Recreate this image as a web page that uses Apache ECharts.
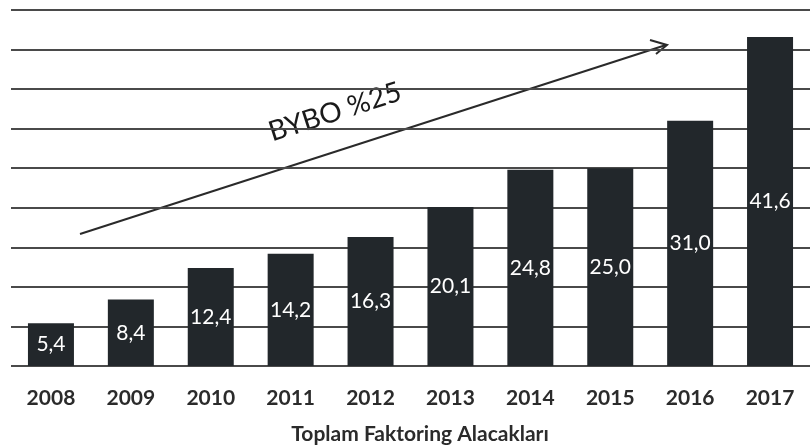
<!DOCTYPE html>
<html>
<head>
<meta charset="utf-8">
<script src="https://cdn.jsdelivr.net/npm/echarts@6/dist/echarts.min.js"></script>
<style>
  html, body { margin: 0; padding: 0; background: #fff; }
  #chart { width: 810px; height: 445px; }
</style>
</head>
<body>
<div id="chart"></div>
<script>
// yıllar ve toplam faktoring alacakları (milyar TL)
var years = ["2008", "2009", "2010", "2011", "2012", "2013", "2014", "2015", "2016", "2017"];
var receivables = [5.4, 8.4, 12.4, 14.2, 16.3, 20.1, 24.8, 25.0, 31.0, 41.6];
var axisTitle = "Toplam Faktoring Alacakları";
var trendText = "BYBO %25";

var chart = echarts.init(document.getElementById("chart"));

var option = {
  animation: false,
  title: {
    text: axisTitle,
    left: 415,
    top: 419,
    textAlign: "center",
    textStyle: {
      fontFamily: "Lato",
      fontWeight: "bold",
      fontSize: 21,
      color: "#2b2b2b"
    }
  },
  grid: {
    left: 11,
    right: -9,
    top: 10,
    bottom: 79
  },
  xAxis: {
    type: "category",
    data: years,
    axisLine: { show: false },
    axisTick: { show: false },
    axisLabel: {
      margin: 22,
      fontFamily: "Lato",
      fontWeight: "bold",
      fontSize: 21,
      color: "#2b2b2b"
    }
  },
  yAxis: {
    type: "value",
    min: 0,
    max: 45,
    interval: 5,
    axisLabel: { show: false },
    axisLine: { show: false },
    axisTick: { show: false },
    splitLine: {
      show: true,
      lineStyle: { color: "#4a4a4a", width: 2 }
    }
  },
  series: [
    {
      type: "bar",
      data: receivables,
      barWidth: 46,
      itemStyle: { color: "#22272b" },
      label: {
        show: true,
        position: "inside",
        fontFamily: "Lato",
        fontSize: 21,
        color: "#ffffff",
        formatter: function(p) {
          return p.value.toFixed(1).replace(".", ",");
        }
      }
    }
  ],
  graphic: [
    {
      type: "line",
      shape: { x1: 80, y1: 234, x2: 666, y2: 45 },
      style: { stroke: "#2a2a2a", lineWidth: 2 }
    },
    {
      type: "polyline",
      shape: { points: [[650, 40], [667, 45], [656, 54]] },
      style: { stroke: "#2a2a2a", lineWidth: 2, fill: null }
    },
    {
      type: "text",
      x: 335,
      y: 112,
      rotation: 0.31,
      style: {
        text: trendText,
        fontFamily: "Lato",
        fontSize: 28,
        fill: "#1a1a1a",
        align: "center",
        verticalAlign: "middle"
      }
    }
  ]
};

chart.setOption(option);
</script>
</body>
</html>
